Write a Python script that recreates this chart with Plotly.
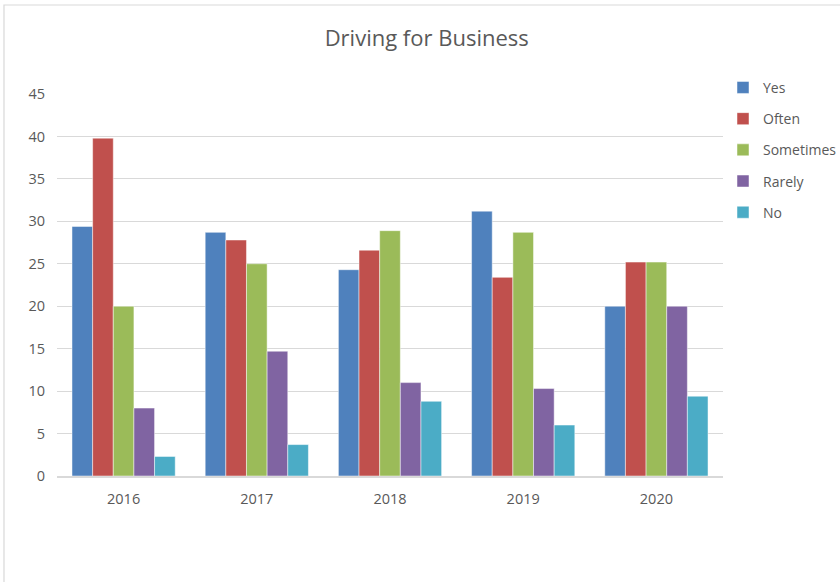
import plotly.graph_objects as go

years = ["2016", "2017", "2018", "2019", "2020"]
series_names = ["Yes", "Often", "Sometimes", "Rarely", "No"]
yes = [29.4, 28.7, 24.3, 31.2, 20.0]
often = [39.8, 27.8, 26.6, 23.4, 25.2]
sometimes = [20.0, 25.0, 28.9, 28.7, 25.2]
rarely = [8.0, 14.7, 11.0, 10.3, 20.0]
no = [2.3, 3.7, 8.8, 6.0, 9.4]
y_ticks = [0, 5, 10, 15, 20, 25, 30, 35, 40, 45]

colors = ["#4f81bd", "#c0504d", "#9bbb59", "#8064a2", "#4bacc6"]
text_color = "#595959"
font_family = "Open Sans, Liberation Sans, sans-serif"

fig = go.Figure()
for name, vals, col in zip(series_names, [yes, often, sometimes, rarely, no], colors):
    fig.add_trace(go.Bar(
        x=years, y=vals, name=name, legendgroup=name,
        marker=dict(color=col, line=dict(color="rgba(255,255,255,0.6)", width=0.8)),
    ))

fig.update_layout(
    width=840, height=582,
    margin=dict(l=57, r=117, t=94, b=106, autoexpand=False),
    paper_bgcolor="white", plot_bgcolor="white",
    barmode="group", bargap=0.225, bargroupgap=0,
    title=dict(text="Driving for Business", x=0.508, xanchor="center",
               y=0.935, yanchor="middle",
               font=dict(family=font_family, size=22, color=text_color)),
    font=dict(family=font_family, size=14, color=text_color),
    legend=dict(x=1.0, y=1.058, xanchor="left", yanchor="top",
                itemwidth=30,
                font=dict(size=14, color=text_color), tracegroupgap=10,
                bgcolor="rgba(0,0,0,0)"),
    xaxis=dict(showgrid=False, showline=True, linecolor="#d9d9d9", linewidth=1.5,
               ticks="", ticklabelstandoff=9, tickfont=dict(size=14.5, color=text_color)),
    yaxis=dict(range=[0, 45], tickvals=y_ticks, showgrid=True, gridcolor="#d9d9d9",
               gridwidth=1, zeroline=False, showline=False, ticks="",
               ticklabelstandoff=11, tickfont=dict(size=14.5, color=text_color)),
    shapes=[dict(type="rect", xref="paper", yref="paper", x0=-0.0796, x1=1.4,
                 y0=-0.6, y1=1.233, line=dict(color="#d9d9d9", width=1.2),
                 fillcolor="rgba(0,0,0,0)", layer="below")],
)

fig.write_html("out.html")
